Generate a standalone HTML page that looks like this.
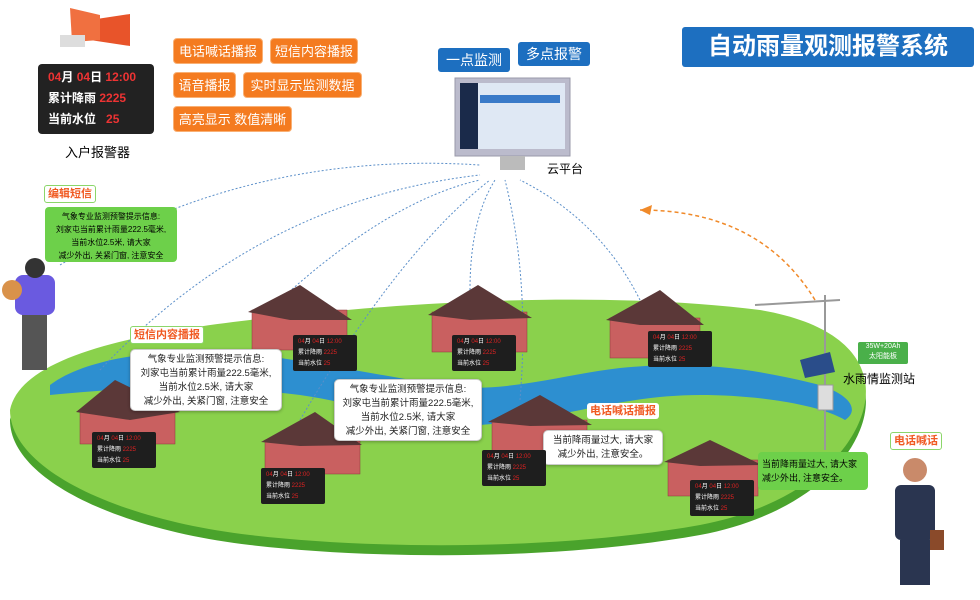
<!DOCTYPE html>
<html><head><meta charset="utf-8">
<style>
body{margin:0;width:980px;height:600px;background:#fff;position:relative;overflow:hidden;font-family:"Liberation Sans","Noto Sans CJK SC",sans-serif}
.a{position:absolute}
.ob{position:absolute;background:#f47b20;color:#fff;font-size:13px;border-radius:4px;height:26px;line-height:26px;text-align:center;border:1px solid #f9b074;box-sizing:border-box}
.disp{position:absolute;background:#1e1e1e;border-radius:2px;color:#fff;font-size:6px;line-height:11px;padding:2px 5px;box-sizing:border-box;width:64px;height:36px}
.disp i{color:#d22;font-style:normal}
.msg{position:absolute;background:#fff;border:1px solid #ccc;border-radius:5px;font-size:9.5px;text-align:center;line-height:14px;color:#222;box-shadow:0 1px 3px rgba(0,0,0,.3);white-space:nowrap;padding-top:3px;box-sizing:border-box}
.tag{position:absolute;color:#f05a22;font-size:11px;font-weight:bold;background:#fff;border:1px solid #8cd66a;border-radius:3px;padding:0 3px;line-height:16px}
</style></head><body>
<svg class="a" style="left:0;top:0" width="980" height="600">
<path d="M10,420 C20,370 120,345 250,330 C400,312 600,300 760,320 C850,335 880,380 860,430 C840,480 780,520 700,535 C560,560 380,560 250,545 C120,530 10,480 10,420Z" fill="#4aa32c"/>
<path d="M10,410 C20,360 120,335 250,320 C400,302 600,290 760,310 C850,325 880,370 860,420 C840,470 780,510 700,525 C560,550 380,550 250,535 C120,520 10,470 10,410Z" fill="#8ad14c"/>
<path d="M50,385 C90,355 180,345 260,355 C330,365 380,375 440,385 C500,395 560,375 620,368 C700,360 760,370 820,385 C850,395 860,410 845,420 C820,405 760,395 700,395 C620,395 560,420 480,425 C420,428 370,405 300,395 C220,385 150,385 50,395Z" fill="#2d8fd0"/>
<g fill="none" stroke="#5b8fc9" stroke-width="1" stroke-dasharray="2,2">
<path d="M60,265 Q250,150 480,165"/>
<path d="M100,370 Q260,200 480,175"/>
<path d="M280,300 Q390,200 480,180"/>
<path d="M470,290 Q470,220 495,180"/>
<path d="M640,300 Q600,220 520,180"/>
<path d="M300,420 Q400,250 490,180"/>
<path d="M520,400 Q530,280 505,180"/>
</g>
<path d="M815,300 Q760,210 640,210" fill="none" stroke="#f08a2a" stroke-width="1.5" stroke-dasharray="4,3"/>
<polygon points="640,210 652,205 650,215" fill="#f08a2a"/>
<g fill="#c96060" stroke="#8a3a3a" stroke-width="0.5">
<rect x="80" y="412" width="95" height="32"/><rect x="252" y="310" width="95" height="40"/><rect x="432" y="312" width="95" height="40"/><rect x="610" y="318" width="90" height="40"/><rect x="265" y="440" width="95" height="34"/><rect x="492" y="420" width="95" height="36"/><rect x="668" y="460" width="90" height="36"/>
</g>
<g fill="#5b3838">
<polygon points="76,412 115,380 180,412 130,420"/><polygon points="248,312 300,285 352,320 290,320"/><polygon points="428,315 478,285 532,318 470,320"/><polygon points="606,320 660,290 704,325 640,325"/><polygon points="261,442 315,412 362,445 300,446"/><polygon points="488,422 540,395 592,425 530,426"/><polygon points="664,462 710,440 762,465 700,466"/>
</g>
<g stroke="#999" stroke-width="2"><line x1="825" y1="295" x2="825" y2="450"/><line x1="755" y1="305" x2="840" y2="300"/></g>
<rect x="818" y="385" width="15" height="25" fill="#ddd" stroke="#999"/>
<polygon points="800,360 830,352 835,372 805,378" fill="#2a4d8a"/>
<rect x="22" y="310" width="25" height="60" fill="#555"/>
<rect x="15" y="275" width="40" height="40" rx="8" fill="#6a5ae0"/>
<circle cx="35" cy="268" r="10" fill="#333"/>
<circle cx="12" cy="290" r="10" fill="#d9924a"/>
<rect x="895" y="485" width="40" height="55" rx="6" fill="#2a3550"/>
<rect x="900" y="540" width="30" height="45" fill="#2a3550"/>
<circle cx="915" cy="470" r="12" fill="#c98a6a"/>
<rect x="930" y="530" width="14" height="20" fill="#8a4a2a"/>
<rect x="455" y="78" width="115" height="78" fill="#bbc" stroke="#99a"/>
<rect x="460" y="83" width="105" height="66" fill="#dfe8f4"/>
<rect x="460" y="83" width="18" height="66" fill="#1a2a4a"/>
<rect x="480" y="95" width="80" height="8" fill="#3a7ac8"/>
<rect x="500" y="156" width="25" height="14" fill="#bbb"/>
<polygon points="90,20 130,14 130,46 90,40" fill="#e8542a"/>
<polygon points="70,8 100,15 100,40 72,42" fill="#f07040"/>
<rect x="60" y="35" width="25" height="12" fill="#ddd"/>
</svg>
<div class="a" style="left:682px;top:27px;width:292px;height:40px;background:#1d6fc0;color:#fff;font-size:24px;font-weight:bold;line-height:40px;text-align:center;border-radius:3px">自动雨量观测报警系统</div>
<div class="a" style="left:438px;top:48px;background:#1d6fc0;color:#fff;font-size:14px;padding:2px 8px;border-radius:3px">一点监测</div>
<div class="a" style="left:518px;top:42px;background:#1d6fc0;color:#fff;font-size:14px;padding:2px 8px;border-radius:3px">多点报警</div>
<div class="a" style="left:547px;top:160px;font-size:12px">云平台</div>
<div class="a" style="left:38px;top:64px;width:116px;height:70px;background:#222;border-radius:4px;color:#fff;font-size:12px;line-height:21px;padding:3px 10px;box-sizing:border-box;font-weight:bold"><span style="color:#e33">04</span>月 <span style="color:#e33">04</span>日 <span style="color:#e33">12:00</span><br>累计降雨 <span style="color:#e33">2225</span><br>当前水位 &nbsp; <span style="color:#e33">25</span></div>
<div class="a" style="left:65px;top:142px;font-size:13px">入户报警器</div>
<div class="ob" style="left:173px;top:38px;width:90px">电话喊话播报</div>
<div class="ob" style="left:270px;top:38px;width:88px">短信内容播报</div>
<div class="ob" style="left:173px;top:72px;width:63px">语音播报</div>
<div class="ob" style="left:243px;top:72px;width:119px">实时显示监测数据</div>
<div class="ob" style="left:173px;top:106px;width:119px">高亮显示 数值清晰</div>
<div class="tag" style="left:44px;top:185px">编辑短信</div>
<div class="a" style="left:45px;top:207px;width:132px;height:55px;background:#6dd04a;border-radius:4px;font-size:8px;line-height:13px;text-align:center;padding-top:3px;box-sizing:border-box;white-space:nowrap">气象专业监测预警提示信息:<br>刘家屯当前累计雨量222.5毫米,<br>当前水位2.5米, 请大家<br>减少外出, 关紧门窗, 注意安全</div>
<div class="tag" style="left:130px;top:326px">短信内容播报</div>
<div class="msg" style="left:130px;top:349px;width:152px;height:62px">气象专业监测预警提示信息:<br>刘家屯当前累计雨量222.5毫米,<br>当前水位2.5米, 请大家<br>减少外出, 关紧门窗, 注意安全</div>
<div class="msg" style="left:334px;top:379px;width:148px;height:62px">气象专业监测预警提示信息:<br>刘家屯当前累计雨量222.5毫米,<br>当前水位2.5米, 请大家<br>减少外出, 关紧门窗, 注意安全</div>
<div class="tag" style="left:587px;top:403px;border:none">电话喊话播报</div>
<div class="msg" style="left:543px;top:430px;width:120px;height:35px">当前降雨量过大, 请大家<br>减少外出, 注意安全。</div>
<div class="a" style="left:758px;top:452px;width:110px;height:38px;background:#6dd04a;border-radius:4px;font-size:9px;line-height:14px;padding:5px 4px;box-sizing:border-box;white-space:nowrap">当前降雨量过大, 请大家<br>减少外出, 注意安全。</div>
<div class="tag" style="left:890px;top:432px">电话喊话</div>
<div class="a" style="left:858px;top:342px;width:50px;height:22px;background:#4ab04a;color:#fff;font-size:7px;text-align:center;line-height:10px;border-radius:2px">35W+20Ah<br>太阳能板</div>
<div class="a" style="left:843px;top:370px;font-size:12px">水雨情监测站</div>
<div class="disp" style="left:92px;top:432px"><i>04</i>月 <i>04</i>日 <i>12:00</i><br>累计降雨 <i>2225</i><br>当前水位 <i>25</i></div>
<div class="disp" style="left:293px;top:335px"><i>04</i>月 <i>04</i>日 <i>12:00</i><br>累计降雨 <i>2225</i><br>当前水位 <i>25</i></div>
<div class="disp" style="left:452px;top:335px"><i>04</i>月 <i>04</i>日 <i>12:00</i><br>累计降雨 <i>2225</i><br>当前水位 <i>25</i></div>
<div class="disp" style="left:648px;top:331px"><i>04</i>月 <i>04</i>日 <i>12:00</i><br>累计降雨 <i>2225</i><br>当前水位 <i>25</i></div>
<div class="disp" style="left:261px;top:468px"><i>04</i>月 <i>04</i>日 <i>12:00</i><br>累计降雨 <i>2225</i><br>当前水位 <i>25</i></div>
<div class="disp" style="left:482px;top:450px"><i>04</i>月 <i>04</i>日 <i>12:00</i><br>累计降雨 <i>2225</i><br>当前水位 <i>25</i></div>
<div class="disp" style="left:690px;top:480px"><i>04</i>月 <i>04</i>日 <i>12:00</i><br>累计降雨 <i>2225</i><br>当前水位 <i>25</i></div>
</body></html>
